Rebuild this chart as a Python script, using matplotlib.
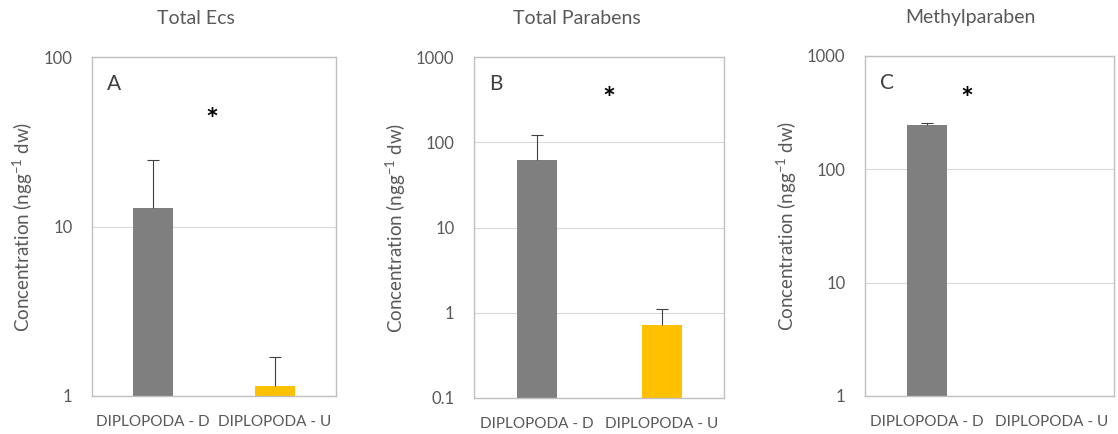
import matplotlib
matplotlib.use("Agg")
import matplotlib.pyplot as plt
from matplotlib.ticker import FixedLocator, FixedFormatter, NullLocator
import numpy as np

plt.rcParams['font.family'] = ['Lato', 'DejaVu Sans']
plt.rcParams['mathtext.fontset'] = 'custom'
plt.rcParams['mathtext.rm'] = 'Lato'
plt.rcParams['mathtext.it'] = 'Lato'
plt.rcParams['mathtext.default'] = 'regular'

categories = ["DIPLOPODA - D", "DIPLOPODA - U"]

# Total ECs
ecs_mean = [12.9, 1.15]
ecs_err = [11.8, 0.55]

# Total parabens
parabens_mean = [62.0, 0.72]
parabens_err = [60.0, 0.39]

# Methylparaben (no value for U)
methyl_mean = [246.0, np.nan]
methyl_err = [11.0, np.nan]

titles = ["Total Ecs", "Total Parabens", "Methylparaben"]
letters = ["A", "B", "C"]
bar_colours = ["#7f7f7f", "#ffc000"]
text_grey = "#595959"

W, H = 1118, 434


def px_axes(fig, x0, x1, y0, y1):
    """Add axes from pixel box (top-left origin)"""
    return fig.add_axes([x0 / W, (H - y1) / H, (x1 - x0) / W, (y1 - y0) / H])


def draw_panel(ax, means, errs, ylim, ticks, ticklabels, letter, star_x, star_y):
    x = np.arange(len(categories))
    ax.bar(x, means, width=0.32, color=bar_colours, zorder=2)
    eb = ax.errorbar(x, means, yerr=[np.zeros(len(errs)), errs], fmt="none",
                     ecolor="#404040", elinewidth=0.8, capsize=4, capthick=0.8, zorder=3)
    # hide the lower caps, only the upper whisker is shown
    eb[1][0].set_visible(False)
    ax.set_yscale("log")
    ax.set_ylim(*ylim)
    ax.set_xlim(-0.5, 1.5)
    ax.yaxis.set_major_locator(FixedLocator(ticks))
    ax.yaxis.set_major_formatter(FixedFormatter(ticklabels))
    ax.yaxis.set_minor_locator(NullLocator())
    ax.set_xticks(x)
    ax.set_xticklabels(categories)
    ax.tick_params(length=0, labelsize=12, colors=text_grey, pad=14)
    ax.tick_params(axis="x", labelsize=11, pad=14)
    ax.grid(axis="y", color="#d9d9d9", linewidth=0.8, zorder=0)
    for s in ax.spines.values():
        s.set_color("#bfbfbf")
        s.set_linewidth(1.0)
    ax.set_ylabel("Concentration (ngg$^{-1}$ dw)", fontsize=13.5, color=text_grey, labelpad=6)
    ax.text(0.06, 0.92, letter, transform=ax.transAxes, fontsize=15,
            color="#404040", va="center", ha="left")
    ax.text(star_x, star_y, "*", transform=ax.transAxes, fontsize=22,
            fontweight="bold", color="black", ha="center", va="center")


fig = plt.figure(figsize=(W / 100, H / 100), dpi=100)

axA = px_axes(fig, 92, 336, 57, 396)
draw_panel(axA, ecs_mean, ecs_err, (1, 100), [1, 10, 100], ["1", "10", "100"], "A", 0.49, 0.81)

axB = px_axes(fig, 474, 724, 57, 398)
draw_panel(axB, parabens_mean, parabens_err, (0.1, 1000), [0.1, 1, 10, 100, 1000],
           ["0.1", "1", "10", "100", "1000"], "B", 0.54, 0.875)

axC = px_axes(fig, 865, 1114, 56, 396)
draw_panel(axC, methyl_mean, methyl_err, (1, 1000), [1, 10, 100, 1000],
           ["1", "10", "100", "1000"], "C", 0.41, 0.87)

title_x = [196, 577, 970]
for t, tx in zip(titles, title_x):
    fig.text(tx / W, 1 - 18 / H, t, fontsize=14, color=text_grey, ha="center", va="center")

fig.savefig("out.png", dpi=100, facecolor="white")
